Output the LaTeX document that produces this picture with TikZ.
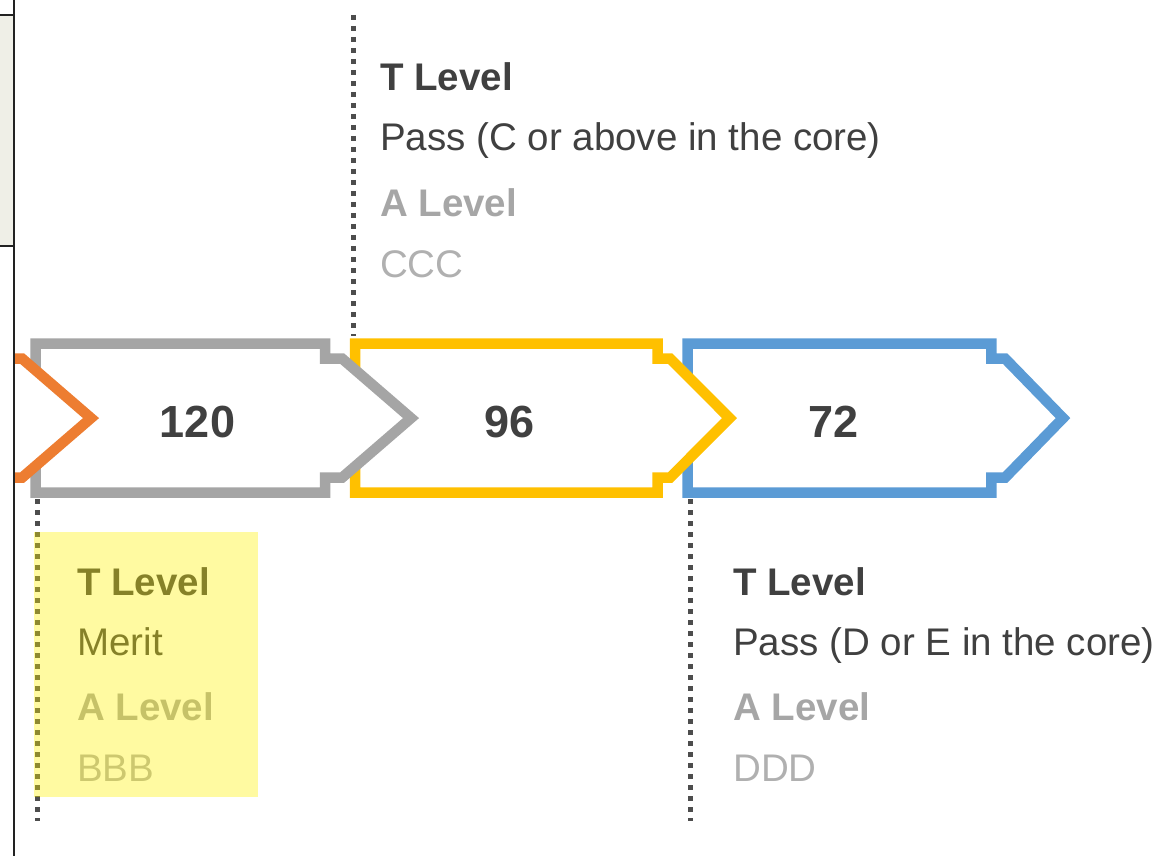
\documentclass[tikz,border=0pt]{standalone}
\usepackage{fontspec}
\setmainfont{Liberation Sans}
\definecolor{txtdark}{HTML}{404040}
\definecolor{txtgrey}{HTML}{A6A6A6}
\definecolor{txtlight}{HTML}{B0B0B0}
\definecolor{stageorange}{HTML}{ED7D31}
\definecolor{stagegrey}{HTML}{A5A5A5}
\definecolor{stageyellow}{HTML}{FFC000}
\definecolor{stageblue}{HTML}{5B9BD5}
\definecolor{leadergrey}{HTML}{4D4D4D}
\definecolor{panelfill}{HTML}{EFEFE7}
\definecolor{frameline}{HTML}{222222}
\begin{document}
\begin{tikzpicture}[x=1pt,y=-1pt,
  stage/.style={fill=white,line width=10.5pt,miter limit=10},
  points/.style={text=txtdark,font=\fontsize{45}{50}\selectfont\bfseries,anchor=base,inner sep=0pt},
  headline/.style={text=txtdark,font=\fontsize{38.5}{46}\selectfont\bfseries,anchor=base west,inner sep=0pt},
  gradeline/.style={text=txtdark,font=\fontsize{38.5}{46}\selectfont,anchor=base west,inner sep=0pt},
  altheadline/.style={text=txtgrey,font=\fontsize{38.5}{46}\selectfont\bfseries,anchor=base west,inner sep=0pt},
  altgradeline/.style={text=txtlight,font=\fontsize{38.5}{46}\selectfont,anchor=base west,inner sep=0pt},
  leader/.style={draw=leadergrey,line width=5pt,dash pattern=on 5pt off 6pt}]
\useasboundingbox (0,0) rectangle (1163,856);

% side panel and frame on the left
\fill[panelfill] (0,15) rectangle (13,246);
\draw[frameline,line width=1.5pt] (0,15) -- (14,15);
\draw[frameline,line width=1.5pt] (0,246) -- (14,246);
\draw[frameline,line width=2pt] (14,0) -- (14,856);

% leader lines
\coordinate (topA) at (353,15);
\coordinate (topB) at (353,336);
\coordinate (leftA) at (37,499);
\coordinate (leftB) at (37,821);
\coordinate (rightA) at (690,499);
\coordinate (rightB) at (690,821);
\draw[leader] (topA) -- (topB);
\draw[leader] (leftA) -- (leftB);
\draw[leader] (rightA) -- (rightB);

% point-score stages, drawn right to left so each overlaps the next
\begin{scope}
\clip (15,0) rectangle (1163,856);
\draw[stage,draw=stageblue] (687.5,343.7) -- (991.3,343.7) -- (991.3,358.5) -- (1005,358.5) -- (1063,418.1)
  -- (1005,477.7) -- (991.3,477.7) -- (991.3,492.5) -- (687.5,492.5) -- cycle;
\draw[stage,draw=stageyellow] (355,343.7) -- (657.7,343.7) -- (657.7,358.5) -- (670,358.5) -- (729.5,418.1)
  -- (670,477.7) -- (657.7,477.7) -- (657.7,492.5) -- (355,492.5) -- cycle;
\draw[stage,draw=stagegrey] (35.7,343.7) -- (325,343.7) -- (325,358.5) -- (342,358.5) -- (411,418.1)
  -- (342,477.7) -- (325,477.7) -- (325,492.5) -- (35.7,492.5) -- cycle;
\draw[stage,draw=stageorange] (-284,343.7) -- (5,343.7) -- (5,358.5) -- (22,358.5) -- (91,418.1)
  -- (22,477.7) -- (5,477.7) -- (5,492.5) -- (-284,492.5) -- cycle;
\end{scope}

\node[points] (n120) at (197.5,437) {120};
\node[points] (n96) at (510,437) {96};
\node[points] (n72) at (834,437) {72};

% grade descriptions
\node[headline] (topT) at (380,91) {T Level};
\node[gradeline] (topTg) at (380,151) {Pass (C or above in the core)};
\node[altheadline] (topA2) at (380,216) {A Level};
\node[altgradeline] (topAg) at (380,277) {CCC};

\node[headline] (leftT) at (77,595) {T Level};
\node[gradeline] (leftTg) at (77,655) {Merit};
\node[altheadline] (leftA2) at (77,720) {A Level};
\node[altgradeline] (leftAg) at (77,781) {BBB};

\node[headline] (rightT) at (733,595) {T Level};
\node[gradeline] (rightTg) at (733,655) {Pass (D or E in the core)};
\node[altheadline] (rightA2) at (733,720) {A Level};
\node[altgradeline] (rightAg) at (733,781) {DDD};

% highlighter over the Merit grade
\fill[yellow,opacity=0.37] (34,532) rectangle (258,797);
\end{tikzpicture}
\end{document}
